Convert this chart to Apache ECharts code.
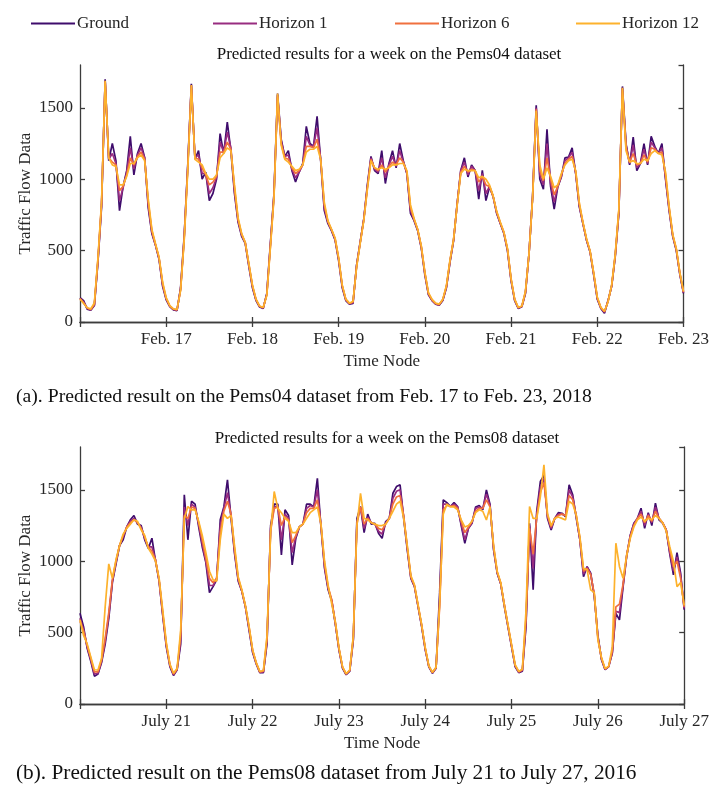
<!DOCTYPE html>
<html>
<head>
<meta charset="utf-8">
<title>Traffic flow prediction</title>
<script src="https://cdn.jsdelivr.net/npm/echarts@6/dist/echarts.min.js"></script>
<style>
  html, body { margin: 0; padding: 0; background: #ffffff; }
  #chart { width: 712px; height: 788px; }
</style>
</head>
<body>
<div id="chart"></div>
<script>
// Hourly traffic flow over one week; index 0 is midnight of the first day.
const hourCount = 169;
const hourCategories = Array.from({ length: hourCount }, (_, i) => String(i));

const dayTicks04 = ['Feb. 16', 'Feb. 17', 'Feb. 18', 'Feb. 19', 'Feb. 20', 'Feb. 21', 'Feb. 22', 'Feb. 23'];
const dayTicks08 = ['July 20', 'July 21', 'July 22', 'July 23', 'July 24', 'July 25', 'July 26', 'July 27'];
const valueTicks = [0, 500, 1000, 1500];

const seriesNames = ['Ground', 'Horizon 1', 'Horizon 6', 'Horizon 12'];
const seriesColors = ['#3f0c6c', '#982c80', '#f0703f', '#fdb22c'];

// PeMS04, Feb. 16 - Feb. 23
const ground04 = [
  170,150,90,82,115,420,806,1700,1130,1250,1130,780,950,1060,1300,1030,1180,1250,1150,800,620,540,440,250,
  155,107,85,80,240,600,1100,1668,1140,1200,1000,1050,850,900,1000,1320,1180,1400,1200,900,700,600,550,390,
  240,150,105,95,200,550,900,1600,1280,1160,1200,1060,980,1050,1110,1370,1250,1230,1440,1130,780,690,640,575,
  430,240,150,125,130,400,560,720,960,1160,1060,1040,1200,970,1110,1200,1080,1250,1130,1040,760,710,640,520,
  330,190,150,125,118,150,240,420,570,830,1062,1150,1016,1100,1062,860,1062,850,946,880,760,690,620,500,
  290,150,95,107,200,480,880,1517,1000,930,1350,950,790,946,1016,1150,1155,1220,1039,806,690,573,490,330,
  160,95,62,150,250,460,760,1650,1250,1100,1295,1060,1110,1250,1100,1300,1230,1180,1250,1000,780,600,500,330,
  200
];
const horizon1_04 = [
  165,140,95,85,120,430,820,1690,1140,1180,1110,850,940,1050,1220,1070,1170,1220,1150,820,630,540,445,260,
  160,110,88,82,230,590,1090,1660,1150,1170,1040,1040,900,940,1010,1260,1190,1330,1220,920,710,610,555,400,
  250,155,108,98,195,540,890,1590,1270,1160,1170,1070,1010,1050,1100,1300,1240,1230,1360,1140,800,700,645,580,
  440,250,155,128,135,395,560,720,950,1150,1070,1050,1150,1010,1100,1160,1090,1200,1120,1040,780,715,645,525,
  340,195,152,127,120,155,245,425,575,830,1060,1120,1030,1090,1060,920,1040,900,950,880,765,690,625,505,
  295,155,98,108,205,480,880,1500,1030,960,1250,970,840,950,1020,1130,1150,1190,1040,815,690,575,492,335,
  165,98,68,148,252,465,770,1640,1240,1110,1240,1080,1110,1210,1110,1260,1220,1180,1220,1010,790,605,505,335,
  205
];
const horizon6_04 = [
  165,135,98,88,125,440,830,1680,1150,1120,1100,920,950,1030,1150,1100,1160,1190,1140,840,640,545,450,270,
  165,112,90,85,225,580,1080,1650,1150,1140,1080,1030,960,980,1020,1190,1190,1260,1210,940,720,615,555,405,
  255,158,110,100,190,530,880,1580,1250,1150,1140,1080,1040,1060,1100,1230,1230,1220,1280,1140,820,705,648,585,
  445,255,158,130,140,390,555,715,940,1140,1080,1060,1100,1050,1090,1120,1100,1150,1120,1050,800,720,648,530,
  345,200,155,130,122,158,250,430,578,825,1050,1090,1050,1070,1060,980,1020,960,950,880,770,695,628,510,
  300,158,100,110,210,480,875,1490,1060,990,1150,1000,890,950,1030,1110,1140,1160,1050,825,695,580,495,340,
  170,100,72,145,255,470,780,1630,1220,1120,1180,1100,1110,1170,1120,1220,1210,1180,1190,1030,800,610,510,340,
  210
];
const horizon12_04 = [
  160,130,100,92,135,450,840,1690,1150,1100,1090,960,960,1020,1110,1110,1150,1170,1130,860,650,550,455,280,
  170,115,92,88,220,570,1060,1660,1140,1120,1100,1040,1000,1000,1030,1150,1180,1220,1200,960,730,620,558,410,
  260,160,112,102,185,520,870,1600,1240,1140,1120,1090,1060,1070,1100,1190,1210,1210,1230,1140,840,710,650,590,
  450,260,160,132,145,385,550,710,930,1130,1080,1070,1080,1070,1080,1100,1100,1110,1110,1060,820,725,650,535,
  350,205,158,132,125,160,255,435,580,820,1040,1070,1060,1060,1060,1010,1020,1000,960,885,775,700,630,515,
  305,160,102,112,215,480,870,1480,1100,1000,1080,1020,940,960,1040,1100,1130,1140,1060,835,700,585,498,345,
  175,102,75,142,258,475,790,1640,1200,1120,1130,1110,1110,1140,1130,1180,1200,1180,1170,1050,810,615,515,345,
  215
];

// PeMS08, July 20 - July 27
const ground08 = [
  635,540,390,300,195,210,290,420,600,850,980,1110,1150,1240,1290,1320,1260,1250,1150,1090,1161,1000,860,620,
  400,262,200,240,420,1465,1150,1420,1400,1240,1100,990,780,822,870,1290,1380,1570,1300,1050,860,790,680,520,
  360,280,220,220,425,1250,1400,1400,1044,1360,1320,974,1160,1240,1260,1400,1400,1380,1580,1240,950,800,720,560,
  380,250,205,230,449,1300,1383,1200,1330,1260,1266,1196,1160,1278,1300,1476,1523,1535,1300,1080,880,822,682,542,
  380,260,215,250,780,1430,1410,1383,1410,1383,1250,1126,1230,1266,1380,1390,1360,1500,1400,1079,916,840,682,540,
  400,260,220,230,540,1266,800,1350,1558,1600,1300,1219,1300,1340,1336,1313,1535,1465,1300,1149,892,962,916,752,
  480,310,240,262,355,635,589,820,1033,1180,1266,1300,1371,1230,1340,1250,1406,1289,1266,1219,1050,904,1060,916,
  660
];
const horizon1_08 = [
  600,520,400,310,210,215,300,440,620,860,990,1110,1170,1240,1280,1300,1270,1240,1160,1100,1100,1010,860,630,
  410,270,205,240,450,1380,1250,1400,1380,1260,1120,1000,830,830,880,1250,1370,1480,1320,1060,870,790,680,530,
  370,285,222,225,440,1230,1380,1390,1150,1330,1300,1060,1170,1240,1260,1370,1390,1380,1500,1250,960,810,725,565,
  385,255,208,232,460,1280,1380,1230,1310,1270,1260,1210,1190,1270,1300,1440,1490,1500,1310,1090,885,825,685,548,
  385,262,218,252,720,1400,1400,1385,1400,1380,1260,1150,1230,1270,1370,1380,1370,1470,1390,1090,920,840,690,545,
  405,265,222,235,560,1250,950,1330,1520,1580,1310,1230,1300,1330,1330,1320,1500,1450,1310,1150,910,960,910,760,
  470,315,242,262,360,650,640,830,1040,1180,1260,1300,1350,1250,1330,1270,1380,1300,1270,1220,1060,930,1030,900,
  670
];
const horizon6_08 = [
  580,510,410,320,225,225,310,460,640,870,1000,1110,1180,1240,1270,1290,1270,1230,1170,1100,1070,1010,870,640,
  420,275,210,245,480,1320,1300,1380,1370,1270,1150,1020,880,850,880,1200,1350,1420,1330,1080,880,795,685,540,
  375,288,225,230,460,1210,1370,1380,1250,1310,1290,1130,1180,1240,1260,1340,1370,1370,1430,1260,980,820,730,570,
  390,258,210,235,470,1260,1380,1260,1300,1270,1260,1230,1220,1260,1300,1400,1450,1460,1320,1100,890,830,690,552,
  390,265,220,255,680,1360,1390,1385,1390,1370,1280,1200,1240,1280,1350,1370,1370,1430,1380,1100,925,845,695,550,
  410,270,225,240,600,1230,1050,1310,1480,1550,1320,1240,1300,1320,1330,1320,1460,1430,1320,1160,930,950,905,770,
  460,320,245,262,370,680,700,840,1040,1170,1250,1300,1330,1270,1320,1280,1350,1300,1270,1220,1080,960,1000,880,
  680
];
const horizon12_08 = [
  590,480,420,330,240,238,320,682,981,880,1010,1110,1190,1230,1260,1290,1280,1220,1180,1090,1050,1000,880,660,
  430,280,215,250,520,1300,1383,1360,1360,1280,1180,1060,930,870,860,1150,1330,1300,1320,1100,890,800,690,545,
  380,290,228,235,480,1200,1488,1370,1340,1300,1280,1200,1200,1240,1260,1300,1340,1360,1380,1260,1000,830,700,575,
  395,260,212,238,480,1250,1476,1300,1290,1270,1260,1250,1250,1260,1300,1350,1400,1420,1300,1110,900,835,695,555,
  395,268,222,258,700,1330,1400,1380,1380,1360,1290,1240,1250,1280,1340,1360,1350,1289,1380,1110,930,850,690,555,
  415,275,228,245,650,1383,1300,1300,1450,1675,1330,1250,1300,1310,1300,1289,1420,1400,1320,1170,950,940,799,780,
  450,325,248,265,400,1126,962,880,1040,1160,1240,1290,1310,1280,1300,1290,1320,1300,1270,1210,1100,1000,822,850,
  690
];

const FONT = "'Liberation Serif', 'Times New Roman', serif";
const TEXT = '#262626';
const AXIS = '#3c3c3c';

const isDayTick = (i) => i % 24 === 0;

function bottomAxis(gridIndex, dayTicks) {
  return {
    type: 'category', gridIndex, data: hourCategories, boundaryGap: false,
    position: 'bottom',
    name: 'Time Node', nameLocation: 'middle', nameGap: 31, nameMoveOverlap: false,
    nameTextStyle: { fontFamily: FONT, fontSize: 17, color: TEXT },
    axisLine: { lineStyle: { color: AXIS, width: 1.3 } },
    axisTick: { inside: true, length: 5, interval: (i) => isDayTick(i), lineStyle: { color: AXIS, width: 1.3 } },
    axisLabel: {
      interval: (i) => isDayTick(i) && i > 0,
      formatter: (v, i) => dayTicks[i / 24],
      fontFamily: FONT, fontSize: 17, color: TEXT, margin: 9
    },
    splitLine: { show: false }
  };
}
function topAxis(gridIndex) {
  return {
    type: 'category', gridIndex, data: hourCategories, boundaryGap: false,
    position: 'top',
    axisLine: { lineStyle: { color: AXIS, width: 1.3 } },
    axisTick: { inside: true, length: 5, interval: (i) => isDayTick(i), lineStyle: { color: AXIS, width: 1.3 } },
    axisLabel: { show: false },
    splitLine: { show: false }
  };
}
function leftAxis(gridIndex) {
  return {
    type: 'value', gridIndex, min: 0, max: 1800, interval: 500, position: 'left',
    name: 'Traffic Flow Data', nameLocation: 'middle', nameGap: 46, nameMoveOverlap: false,
    nameTextStyle: { fontFamily: FONT, fontSize: 17, color: TEXT },
    axisLine: { show: true, lineStyle: { color: AXIS, width: 1.3 } },
    axisTick: { show: true, inside: true, length: 5, lineStyle: { color: AXIS, width: 1.3 } },
    axisLabel: {
      showMaxLabel: false,
      formatter: (v) => (valueTicks.indexOf(v) >= 0 ? String(v) : ''),
      fontFamily: FONT, fontSize: 17, color: TEXT, margin: 7
    },
    splitLine: { show: false }
  };
}
function rightAxis(gridIndex) {
  return {
    type: 'value', gridIndex, min: 0, max: 1800, interval: 500, position: 'right',
    axisLine: { show: true, lineStyle: { color: AXIS, width: 1.3 } },
    axisTick: { show: true, inside: true, length: 5, lineStyle: { color: AXIS, width: 1.3 } },
    axisLabel: { show: false },
    splitLine: { show: false }
  };
}

function lineSeries(name, data, colorIndex, xAxisIndex, yAxisIndex) {
  return {
    type: 'line', name, data, xAxisIndex, yAxisIndex,
    showSymbol: false, symbol: 'none', smooth: false,
    lineStyle: { color: seriesColors[colorIndex], width: 1.7 },
    itemStyle: { color: seriesColors[colorIndex] },
    z: 2 + colorIndex
  };
}

const legendSlots = [26, 208, 390, 571];

const option = {
  animation: false,
  backgroundColor: '#ffffff',
  title: [
    { text: 'Predicted results for a week on the Pems04 dataset', left: 384, top: 41, textAlign: 'center',
      textStyle: { fontFamily: FONT, fontSize: 17, fontWeight: 'normal', color: '#111' } },
    { text: 'Predicted results for a week on the Pems08 dataset', left: 382, top: 425, textAlign: 'center',
      textStyle: { fontFamily: FONT, fontSize: 17, fontWeight: 'normal', color: '#111' } }
  ],
  legend: seriesNames.map((n, k) => ({
    data: [n], left: legendSlots[k], top: 10, orient: 'horizontal',
    icon: 'rect', itemWidth: 44, itemHeight: 2,
    textStyle: { fontFamily: FONT, fontSize: 17, color: TEXT, padding: [0, 0, 0, -3] },
    selectedMode: false
  })),
  grid: [
    { left: 80, top: 65, width: 608, height: 257 },
    { left: 80, top: 447, width: 605, height: 257 }
  ],
  xAxis: [bottomAxis(0, dayTicks04), topAxis(0), bottomAxis(1, dayTicks08), topAxis(1)],
  yAxis: [leftAxis(0), rightAxis(0), leftAxis(1), rightAxis(1)],
  series: [
    lineSeries('Ground', ground04, 0, 0, 0),
    lineSeries('Horizon 1', horizon1_04, 1, 0, 0),
    lineSeries('Horizon 6', horizon6_04, 2, 0, 0),
    lineSeries('Horizon 12', horizon12_04, 3, 0, 0),
    lineSeries('Ground', ground08, 0, 2, 2),
    lineSeries('Horizon 1', horizon1_08, 1, 2, 2),
    lineSeries('Horizon 6', horizon6_08, 2, 2, 2),
    lineSeries('Horizon 12', horizon12_08, 3, 2, 2)
  ],
  graphic: [
    { type: 'text', left: 16, top: 387,
      style: { text: '(a). Predicted result on the Pems04 dataset from Feb. 17 to Feb. 23, 2018',
               font: '19.7px ' + FONT, fill: '#111' } },
    { type: 'text', left: 16, top: 763,
      style: { text: '(b). Predicted result on the Pems08 dataset from July 21 to July 27, 2016',
               font: '21.3px ' + FONT, fill: '#111' } }
  ]
};

const chart = echarts.init(document.getElementById('chart'), null, { renderer: 'canvas' });
chart.setOption(option);
</script>
</body>
</html>
